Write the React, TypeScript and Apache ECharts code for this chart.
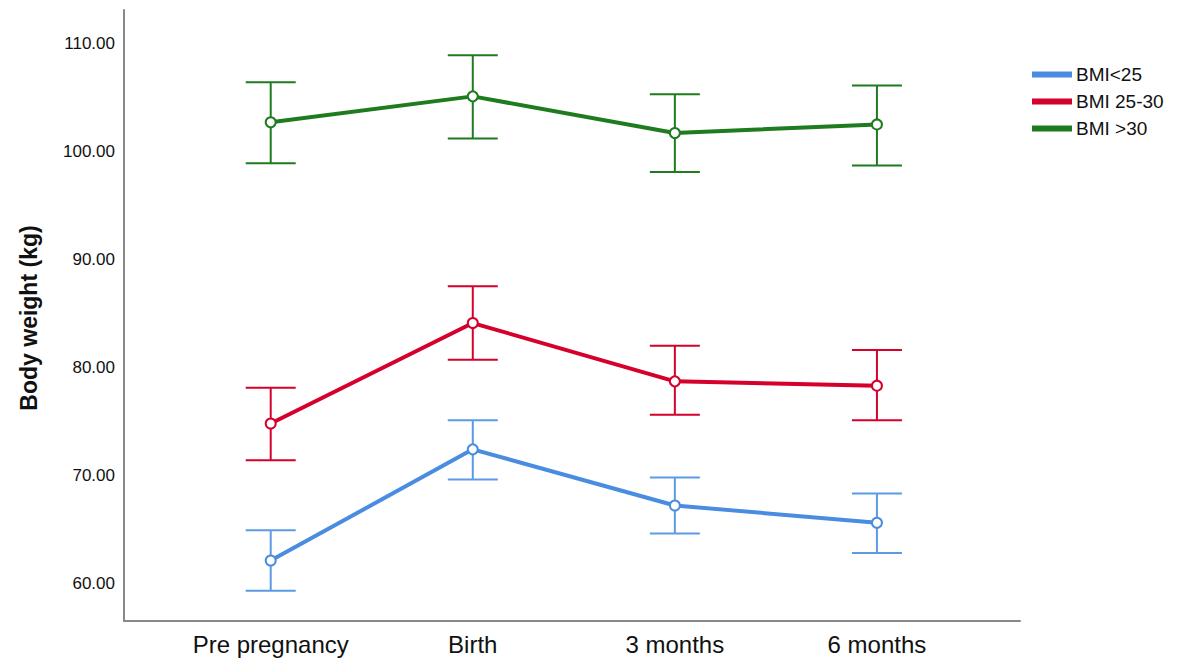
import React, { useEffect, useRef } from "react";
import * as echarts from "echarts";

const categories = ["Pre pregnancy", "Birth", "3 months", "6 months"];
const yTickValues = [60, 70, 80, 90, 100, 110];
const yAxisTitle = "Body weight (kg)";

const seriesNames = ["BMI<25", "BMI 25-30", "BMI >30"];

const bmiUnder25Mean = [62.1, 72.4, 67.2, 65.6];
const bmiUnder25Low = [59.3, 69.6, 64.6, 62.8];
const bmiUnder25High = [64.9, 75.1, 69.8, 68.3];

const bmi25to30Mean = [74.8, 84.1, 78.7, 78.3];
const bmi25to30Low = [71.4, 80.7, 75.6, 75.1];
const bmi25to30High = [78.1, 87.5, 82.0, 81.6];

const bmiOver30Mean = [102.7, 105.1, 101.7, 102.5];
const bmiOver30Low = [98.9, 101.2, 98.1, 98.7];
const bmiOver30High = [106.4, 108.9, 105.3, 106.1];

const lineColors = ["#4A8DE0", "#D5002C", "#1E7B1E"];
const barColors = ["#5C9AE6", "#D5002C", "#1E7B1E"];

const groups = [
  { mean: bmiUnder25Mean, low: bmiUnder25Low, high: bmiUnder25High },
  { mean: bmi25to30Mean, low: bmi25to30Low, high: bmi25to30High },
  { mean: bmiOver30Mean, low: bmiOver30Low, high: bmiOver30High },
];

export default function App() {
  const ref = useRef<HTMLDivElement>(null);

  useEffect(() => {
    if (!ref.current) return;
    const chart = echarts.init(ref.current, null, { renderer: "svg" });

    const series: any[] = [];
    groups.forEach((g, gi) => {
      series.push({
        name: seriesNames[gi] + " error",
        type: "custom",
        z: 2,
        data: categories.map((_, i) => [i, g.low[i], g.high[i]]),
        encode: { x: 0, y: [1, 2] },
        renderItem: (params: any, api: any) => {
          const x = api.value(0);
          const lo = api.coord([x, api.value(1)]);
          const hi = api.coord([x, api.value(2)]);
          const hw = 25;
          const style = { stroke: barColors[gi], lineWidth: 2, fill: "none" };
          return {
            type: "group",
            children: [
              { type: "line", shape: { x1: lo[0], y1: lo[1], x2: hi[0], y2: hi[1] }, style },
              { type: "line", shape: { x1: hi[0] - hw, y1: hi[1], x2: hi[0] + hw, y2: hi[1] }, style },
              { type: "line", shape: { x1: lo[0] - hw, y1: lo[1], x2: lo[0] + hw, y2: lo[1] }, style },
            ],
          };
        },
      });
      series.push({
        name: seriesNames[gi],
        type: "line",
        z: 3,
        data: categories.map((_, i) => [i, g.mean[i]]),
        symbol: "emptyCircle",
        symbolSize: 10,
        showSymbol: true,
        lineStyle: { color: lineColors[gi], width: 4 },
        itemStyle: { color: lineColors[gi], borderColor: lineColors[gi], borderWidth: 1.3 },
      });
    });

    chart.setOption({
      animation: false,
      backgroundColor: "#ffffff",
      textStyle: { fontFamily: "Liberation Sans, Arial, sans-serif" },
      grid: { left: 124, right: 163, top: 10, bottom: 40, containLabel: false },
      graphic: [
        {
          type: "text",
          x: 29,
          y: 318,
          rotation: Math.PI / 2,
          style: {
            text: yAxisTitle,
            fontSize: 23,
            fontWeight: "bold",
            fill: "#111",
            align: "center",
            verticalAlign: "middle",
            fontFamily: "Liberation Sans, Arial, sans-serif",
          },
        },
      ],
      legend: {
        data: seriesNames.map((n, i) => ({ name: n, itemStyle: { color: lineColors[i] } })),
        orient: "vertical",
        left: 1027,
        top: 60,
        icon: "rect",
        itemWidth: 38,
        itemHeight: 4,
        itemGap: 8,
        selectedMode: false,
        textStyle: { fontSize: 19, color: "#111", padding: [0, 0, 0, 0] },
      },
      xAxis: {
        type: "value",
        min: -0.726,
        max: 3.708,
        axisLine: { show: true, onZero: false, lineStyle: { color: "#888", width: 2 } },
        axisTick: { show: false },
        splitLine: { show: false },
        axisLabel: {
          customValues: [0, 1, 2, 3],
          formatter: (v: number) => categories[Math.round(v)] ?? "",
          fontSize: 24,
          color: "#111",
          margin: 11,
        },
      },
      yAxis: {
        type: "value",
        min: 56.5,
        max: 113.1,
        axisLine: { show: true, onZero: false, lineStyle: { color: "#888", width: 2 } },
        axisTick: { show: false },
        splitLine: { show: false },
        axisLabel: {
          customValues: yTickValues,
          formatter: (v: number) => v.toFixed(2),
          fontSize: 17,
          color: "#111",
          margin: 9,
        },
      },
      series,
    });

    return () => chart.dispose();
  }, []);

  return (
    <div
      ref={ref}
      style={{ position: "fixed", left: 0, top: 0, width: 1183, height: 661 }}
    />
  );
}
